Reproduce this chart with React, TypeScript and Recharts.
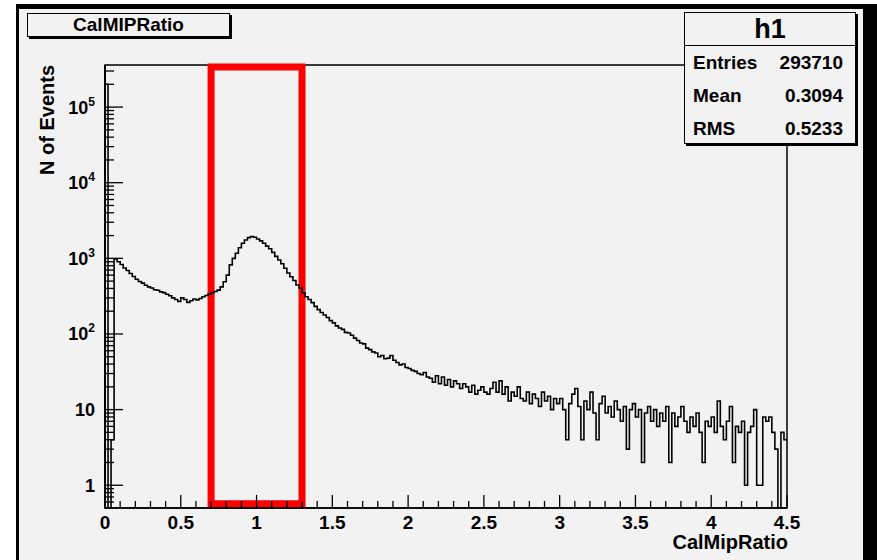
import React from "react";
import { LineChart, Line, XAxis, YAxis, ReferenceArea } from "recharts";

// CalMipRatio histogram, 225 bins of width 0.02 over [0, 4.5]
const BIN_WIDTH = 0.02;
const binCounts = [
  200000, 0.3, 4, 980, 900, 830, 745, 690, 630, 575,
  530, 495, 470, 440, 420, 405, 385, 378, 360, 352,
  335, 320, 300, 285, 270, 300, 285, 262, 275, 290,
  282, 295, 310, 322, 338, 350, 365, 380, 420, 490,
  600, 820, 1000, 1170, 1380, 1580, 1750, 1880, 1940, 1900,
  1800, 1700, 1580, 1450, 1340, 1200, 1060, 950, 850, 740,
  640, 570, 510, 445, 405, 350, 310, 285, 260, 232,
  210, 192, 178, 165, 150, 140, 128, 120, 115, 105,
  103, 96, 88, 82, 76, 74, 65, 62, 58, 56,
  50, 52, 47, 48, 52, 45, 42, 39, 40, 36,
  35, 33, 32, 30, 29, 31, 27, 26, 23, 28,
  22, 27, 21, 25, 20, 24, 22, 19, 22, 20,
  17, 21, 16, 18, 20, 17, 16, 19, 23, 17,
  24, 16, 20, 13, 17, 15, 20, 14, 13, 17,
  12, 16, 14, 11, 17, 13, 15, 10, 14, 12,
  14, 10, 4, 12, 16, 19, 11, 4, 13, 10,
  17, 9, 4, 12, 15, 9, 11, 8, 13, 10,
  7, 11, 3, 10, 12, 8, 10, 2, 9, 11,
  7, 10, 6, 9, 7, 11, 2, 9, 6, 8,
  11, 7, 5, 8, 6, 9, 5, 2, 7, 6,
  8, 5, 13, 6, 4, 7, 11, 2, 6, 5,
  7, 1, 5, 6, 10, 1, 1, 8, 7, 8,
  5, 3, 0.3, 5, 4,
];

const xTicks = [
  0, 0.1, 0.2, 0.3, 0.4, 0.5, 0.6, 0.7, 0.8, 0.9,
  1, 1.1, 1.2, 1.3, 1.4, 1.5, 1.6, 1.7, 1.8, 1.9,
  2, 2.1, 2.2, 2.3, 2.4, 2.5, 2.6, 2.7, 2.8, 2.9,
  3, 3.1, 3.2, 3.3, 3.4, 3.5, 3.6, 3.7, 3.8, 3.9,
  4, 4.1, 4.2, 4.3, 4.4, 4.5,
];
const yTicks = [
  0.6, 0.7, 0.8, 0.9,
  1, 2, 3, 4, 5, 6, 7, 8, 9,
  10, 20, 30, 40, 50, 60, 70, 80, 90,
  100, 200, 300, 400, 500, 600, 700, 800, 900,
  1000, 2000, 3000, 4000, 5000, 6000, 7000, 8000, 9000,
  10000, 20000, 30000, 40000, 50000, 60000, 70000, 80000, 90000,
  100000, 200000, 300000,
];

const statsRows = [
  ["Entries", "293710"],
  ["Mean", "0.3094"],
  ["RMS", "0.5233"],
];

const chartData = binCounts.map((n, i) => ({ x: +(i * BIN_WIDTH).toFixed(2), n }));
chartData.push({ x: 4.5, n: binCounts[binCounts.length - 1] });

const FONT = "'Liberation Sans', Arial, Helvetica, sans-serif";

function XTick({ x, y, payload }: any) {
  const v = payload.value;
  const major = Math.abs(v * 2 - Math.round(v * 2)) < 1e-6;
  return (
    <g>
      <line x1={x} x2={x} y1={y} y2={y - (major ? 13 : 7)} stroke="#000" strokeWidth={1.3} />
      {major && (
        <text x={x} y={y + 21} textAnchor="middle" fontFamily={FONT} fontWeight="bold" fontSize={19} fill="#000">
          {String(v)}
        </text>
      )}
    </g>
  );
}

function YTick({ x, y, payload }: any) {
  const v = payload.value;
  const lg = Math.log10(v);
  const exp = Math.round(lg);
  const major = Math.abs(lg - exp) < 1e-6;
  return (
    <g>
      <line x1={x} x2={x + (major ? 18 : 9)} y1={y} y2={y} stroke="#000" strokeWidth={1.3} />
      {major && (
        <text x={x - 10} y={y} dy="0.36em" textAnchor="end" fontFamily={FONT} fontWeight="bold" fontSize={18} fill="#000">
          {exp <= 1 ? String(v) : (
            <>
              <tspan>10</tspan>
              <tspan dy={-8} fontSize={12}>{exp}</tspan>
            </>
          )}
        </text>
      )}
    </g>
  );
}

export default function App() {
  return (
    <div style={{ position: "absolute", left: 0, top: 0, width: 877, height: 560, background: "#fff", overflow: "hidden", fontFamily: FONT }}>
      <div style={{ position: "absolute", left: 16, top: 4, width: 861, height: 556, background: "#f2f2f2", borderLeft: "3px solid #000", borderTop: "5px solid #000", borderRight: "14px solid #000", boxSizing: "border-box" }} />
      <div style={{ position: "absolute", left: 0, top: 0 }}>
        <LineChart width={877} height={560} data={chartData} margin={{ top: 65, right: 90, bottom: 22, left: 45 }}>
          <XAxis
            dataKey="x"
            type="number"
            domain={[0, 4.5]}
            ticks={xTicks}
            interval={0}
            allowDataOverflow
            height={30}
            tickSize={0}
            tickMargin={0}
            tickLine={false}
            axisLine={{ stroke: "#000", strokeWidth: 1.5 }}
            tick={<XTick />}
          />
          <YAxis
            type="number"
            scale="log"
            domain={[0.5, 360000]}
            ticks={yTicks}
            interval={0}
            allowDataOverflow
            width={60}
            tickSize={0}
            tickMargin={0}
            tickLine={false}
            axisLine={{ stroke: "#000", strokeWidth: 2 }}
            tick={<YTick />}
          />
          <ReferenceArea x1={0} x2={4.5} y1={0.5} y2={360000} fill="none" stroke="#000" strokeWidth={1.5} />
          <Line
            dataKey="n"
            type="stepAfter"
            stroke="#000"
            strokeWidth={1.6}
            dot={false}
            activeDot={false}
            isAnimationActive={false}
          />
          <ReferenceArea x1={0.7} x2={1.3} y1={0.57} y2={340000} fill="none" stroke="#ff0000" strokeWidth={7} ifOverflow="visible" />
        </LineChart>
      </div>
      <div style={{ position: "absolute", left: 27, top: 13, width: 203, height: 24, border: "1.5px solid #000", boxShadow: "2px 2px 0 #000", boxSizing: "border-box", background: "#f2f2f2", display: "flex", alignItems: "center", justifyContent: "center", fontWeight: "bold", fontSize: 19 }}>
        CalMIPRatio
      </div>
      <div style={{ position: "absolute", left: 47, top: 120, transform: "translate(-50%, -50%) rotate(-90deg)", whiteSpace: "nowrap", fontWeight: "bold", fontSize: 20, lineHeight: "20px" }}>
        N of Events
      </div>
      <div style={{ position: "absolute", right: 877 - 788, top: 532, fontWeight: "bold", fontSize: 20, lineHeight: "20px", whiteSpace: "nowrap" }}>
        CalMipRatio
      </div>
      <div style={{ position: "absolute", left: 684, top: 12, width: 172, height: 132, border: "1.5px solid #000", boxShadow: "2px 2px 0 #000", boxSizing: "border-box", background: "#f2f2f2" }}>
        <div style={{ height: 32, borderBottom: "1.5px solid #000", display: "flex", alignItems: "center", justifyContent: "center", fontWeight: "bold", fontSize: 27 }}>
          h1
        </div>
        {statsRows.map(([k, v]) => (
          <div key={k} style={{ height: 33, display: "flex", alignItems: "center", justifyContent: "space-between", padding: "0 12px 0 8px", fontWeight: "bold", fontSize: 19 }}>
            <span>{k}</span>
            <span>{v}</span>
          </div>
        ))}
      </div>
    </div>
  );
}
